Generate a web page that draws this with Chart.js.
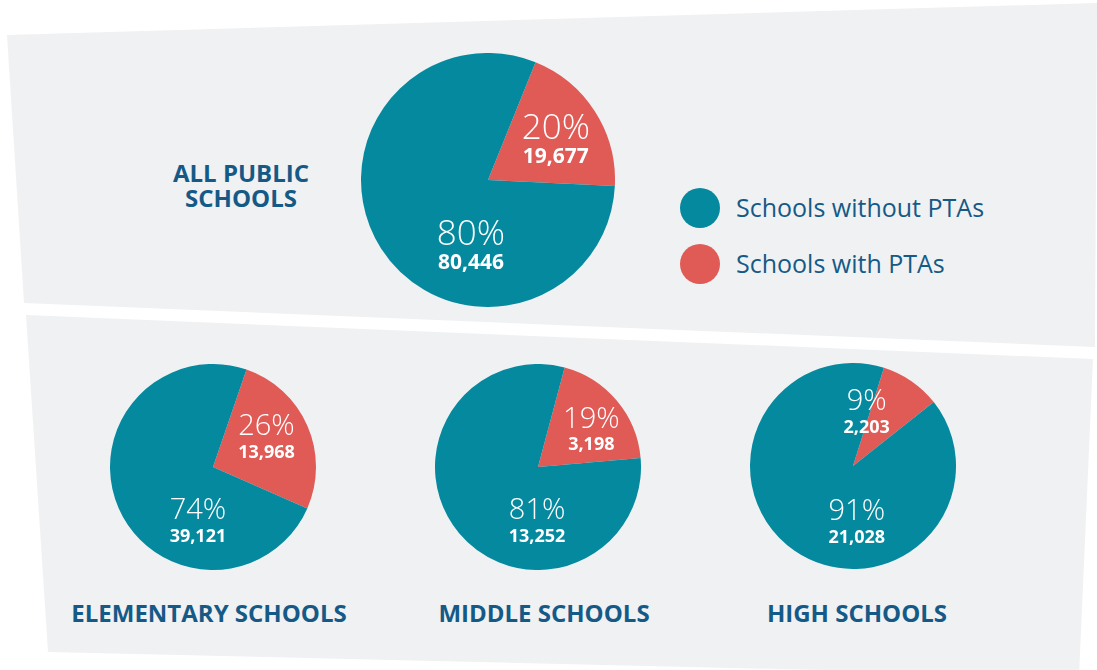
<!DOCTYPE html>
<html>
<head>
<meta charset="utf-8">
<script src="https://cdn.jsdelivr.net/npm/chart.js@4.4.1/dist/chart.umd.min.js"></script>
<style>
  body { margin: 0; width: 1097px; height: 670px; background: #fff; position: relative; overflow: hidden; font-family: "Open Sans", sans-serif; }
  .panel { position: absolute; left: 0; top: 0; width: 1097px; height: 700px; background: #f0f1f3; }
  #panel-top { clip-path: polygon(7px 35px, 1097px 3px, 1095px 347px, 24px 303px); }
  #panel-bottom { clip-path: polygon(26px 315px, 1093px 359px, 1079px 676px, 48px 652px); }
  .pie { position: absolute; }
  .title { position: absolute; color: #155a86; font-weight: 700; font-size: 24px; line-height: 25px; text-align: center; white-space: nowrap; transform: translateX(-50%); }
  .legend { position: absolute; left: 680px; top: 187px; color: #155a86; font-size: 25px; }
  .legend div { position: relative; height: 56px; line-height: 40px; padding-left: 56px; white-space: nowrap; }
  .legend span { position: absolute; left: 0; top: 1px; width: 40px; height: 40px; border-radius: 50%; }
</style>
</head>
<body>
<div class="panel" id="panel-top"></div>
<div class="panel" id="panel-bottom"></div>

<div class="title" style="left:241px;top:160px">ALL PUBLIC<br>SCHOOLS</div>
<div class="title" style="left:209px;top:600px">ELEMENTARY SCHOOLS</div>
<div class="title" style="left:544px;top:600px">MIDDLE SCHOOLS</div>
<div class="title" style="left:857px;top:600px">HIGH SCHOOLS</div>

<div class="legend" id="legend"></div>

<canvas class="pie" id="pie-all" style="left:361px;top:53px;width:254px;height:254px"></canvas>
<canvas class="pie" id="pie-elem" style="left:110px;top:364px;width:206px;height:206px"></canvas>
<canvas class="pie" id="pie-mid" style="left:435px;top:364px;width:206px;height:206px"></canvas>
<canvas class="pie" id="pie-high" style="left:750px;top:363px;width:206px;height:206px"></canvas>

<script>
// first slice = with PTAs, second = without PTAs
const segments = ['Schools with PTAs', 'Schools without PTAs'];
const legendOrder = ['Schools without PTAs', 'Schools with PTAs'];
const allSchools = [19677, 80446];
const elementary = [13968, 39121];
const middle = [3198, 13252];
const high = [2203, 21028];

const COLORS = { 'Schools with PTAs': '#e05a56', 'Schools without PTAs': '#05899e' };

// draws "NN%" over the slice count, at [angle from top, fraction of radius]
const sliceLabels = {
  id: 'sliceLabels',
  afterDatasetsDraw(chart, args, opts) {
    const meta = chart.getDatasetMeta(0);
    const data = chart.data.datasets[0].data;
    const total = data.reduce((a, b) => a + b, 0);
    const ctx = chart.ctx;
    meta.data.forEach((arc, i) => {
      const [deg, frac] = opts.spots[i];
      const a = (deg - 90) * Math.PI / 180;
      const d = arc.outerRadius * frac;
      const x = arc.x + Math.cos(a) * d;
      const y = arc.y + Math.sin(a) * d + opts.shift;
      ctx.save();
      ctx.fillStyle = '#fff';
      ctx.textAlign = 'center';
      ctx.textBaseline = 'middle';
      ctx.font = `300 ${opts.pctSize}px "Open Sans"`;
      ctx.fillText(Math.round(data[i] / total * 100) + '%', x, y - opts.gap);
      ctx.font = `700 ${opts.numSize}px "Open Sans"`;
      ctx.fillText(data[i].toLocaleString('en-US'), x, y + opts.gap);
      ctx.restore();
    });
  }
};

function renderPie(id, values, rotation, spots, big) {
  const canvas = document.getElementById(id);
  new Chart(canvas, {
    type: 'pie',
    data: {
      labels: segments,
      datasets: [{
        data: values,
        backgroundColor: segments.map(s => COLORS[s]),
        borderWidth: 0,
      }],
    },
    options: {
      responsive: false,
      animation: false,
      rotation,
      layout: { padding: 0 },
      plugins: {
        legend: { display: false },
        tooltip: { enabled: false },
        sliceLabels: big
          ? { spots, pctSize: 35, numSize: 21, gap: 14, shift: 5 }
          : { spots, pctSize: 29, numSize: 18, gap: 13, shift: 4 },
      },
    },
    plugins: [sliceLabels],
  });
}

function renderLegend() {
  const el = document.getElementById('legend');
  el.innerHTML = legendOrder.map(s =>
    `<div><span style="background:${COLORS[s]}"></span>${s}</div>`
  ).join('');
}

renderPie('pie-all', allSchools, 22, [[58, 0.63], [195, 0.52]], true);
renderPie('pie-elem', elementary, 19, [[60, 0.6], [196, 0.53]], false);
renderPie('pie-mid', middle, 15, [[54, 0.64], [181, 0.51]], false);
renderPie('pie-high', high, 17.5, [[14, 0.55], [176, 0.53]], false);
renderLegend();
</script>
</body>
</html>
